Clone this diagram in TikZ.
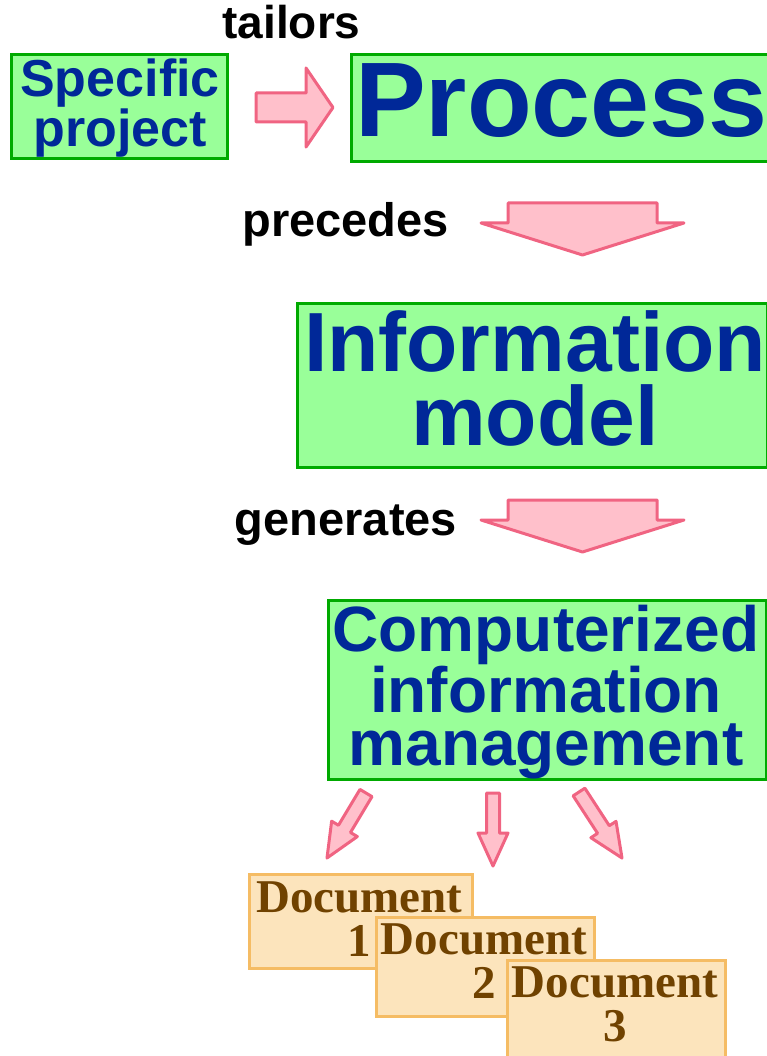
\documentclass[tikz,border=0pt]{standalone}
\usepackage{fontspec}
\setmainfont{Liberation Serif}
\setsansfont{Liberation Sans}
\usetikzlibrary{calc}

\definecolor{boxfill}{RGB}{153,255,153}
\definecolor{boxline}{RGB}{0,170,0}
\definecolor{boxtext}{RGB}{0,40,152}
\definecolor{arrfill}{RGB}{255,192,203}
\definecolor{arrline}{RGB}{240,100,130}
\definecolor{docfill}{RGB}{252,228,188}
\definecolor{docline}{RGB}{245,188,100}
\definecolor{doctext}{RGB}{112,66,0}

\tikzset{
  greenbox/.style={draw=boxline, fill=boxfill, line width=3pt, inner sep=0pt, anchor=north west},
  bluetext/.style={text=boxtext, inner sep=0pt, align=center, anchor=north},
  verb/.style={font={\sffamily\bfseries\fontsize{47}{47}\selectfont}, inner sep=0pt, anchor=base},
  pinkarrow/.style={draw=arrline, fill=arrfill, line width=3pt, line join=round},
  docbox/.style={draw=docline, fill=docfill, line width=3pt, inner sep=0pt, anchor=north west},
  doctxt/.style={text=doctext, font={\rmfamily\bfseries\fontsize{47}{44}\selectfont}, inner sep=0pt, align=center, anchor=north},
}

% block arrow: #1 tail centre, #2 tip, #3 half shaft width, #4 half head width, #5 head length
\newcommand{\fatarrow}[5]{%
  \coordinate (fa-h) at ($(#2)!#5!(#1)$);
  \draw[pinkarrow]
    ($(#1)!#3!90:(#2)$) -- ($(fa-h)!#3!90:(#2)$) -- ($(fa-h)!#4!90:(#2)$) -- (#2)
    -- ($(fa-h)!#4!-90:(#2)$) -- ($(fa-h)!#3!-90:(#2)$) -- ($(#1)!#3!-90:(#2)$) -- cycle;
}

\begin{document}
\begin{tikzpicture}[x=1pt, y=-1pt]
\useasboundingbox (0,0) rectangle (767,1056);

% ---- top row ----
\node[greenbox, minimum width=216pt, minimum height=104pt] (spec) at (10,53) {};
\node[bluetext, font={\sffamily\bfseries\fontsize{52}{46}\selectfont}] (spectxt) at (120,59) {Specific\\project};

\node[greenbox, minimum width=450pt, minimum height=107pt] (proc) at (350,53) {};
\node[text=boxtext, inner sep=0pt, anchor=base west, font={\sffamily\bfseries\fontsize{106}{106}\selectfont}] (proctxt) at (355,137) {Process};

\node[verb, font={\sffamily\bfseries\fontsize{46}{46}\selectfont}] (tailors) at (291.5,39) {tailors};
\coordinate (a1t) at (256,107.5);
\coordinate (a1h) at (333,107.5);
\fatarrow{a1t}{a1h}{14.5pt}{39.5pt}{27pt}

% ---- precedes ----
\node[verb] (precedes) at (345.5,237) {precedes};
\coordinate (a2t) at (582.5,203);
\coordinate (a2h) at (582.5,255);
\fatarrow{a2t}{a2h}{74.5pt}{101.5pt}{32pt}

% ---- information model ----
\node[greenbox, minimum width=470pt, minimum height=164pt] (info) at (296,302) {};
\node[bluetext, font={\sffamily\bfseries\fontsize{84}{74}\selectfont}] (infotxt) at (535,310) {Information\\model};

% ---- generates ----
\node[verb] (generates) at (346,535) {generates};
\coordinate (a3t) at (582.5,500);
\coordinate (a3h) at (582.5,552);
\fatarrow{a3t}{a3h}{74.5pt}{101.5pt}{32pt}

% ---- computerized information management ----
\node[greenbox, minimum width=438pt, minimum height=179pt] (comp) at (327,599) {};
\node[bluetext, font={\sffamily\bfseries\fontsize{64}{53}\selectfont}] (comptxt) at (546,605) {Computerized\\information\\management};

% ---- small arrows towards the documents ----
\coordinate (b1t) at (366,793);
\coordinate (b1h) at (327,858);
\fatarrow{b1t}{b1h}{7pt}{15pt}{34pt}
\coordinate (b2t) at (493,793);
\coordinate (b2h) at (493,866);
\fatarrow{b2t}{b2h}{6.5pt}{15pt}{33pt}
\coordinate (b3t) at (579,792);
\coordinate (b3h) at (622,858);
\fatarrow{b3t}{b3h}{7pt}{15pt}{34pt}

% ---- documents ----
\node[docbox, minimum width=223pt, minimum height=94pt] (doc1) at (248,873) {};
\node[doctxt] (doc1txt) at (359.5,882) {Document\\1};
\node[docbox, minimum width=218pt, minimum height=99pt] (doc2) at (375,916) {};
\node[doctxt] (doc2txt) at (484,924) {Document\\2};
\node[docbox, minimum width=218pt, minimum height=120pt] (doc3) at (506,959) {};
\node[doctxt] (doc3txt) at (615,967) {Document\\3};
\end{tikzpicture}
\end{document}
